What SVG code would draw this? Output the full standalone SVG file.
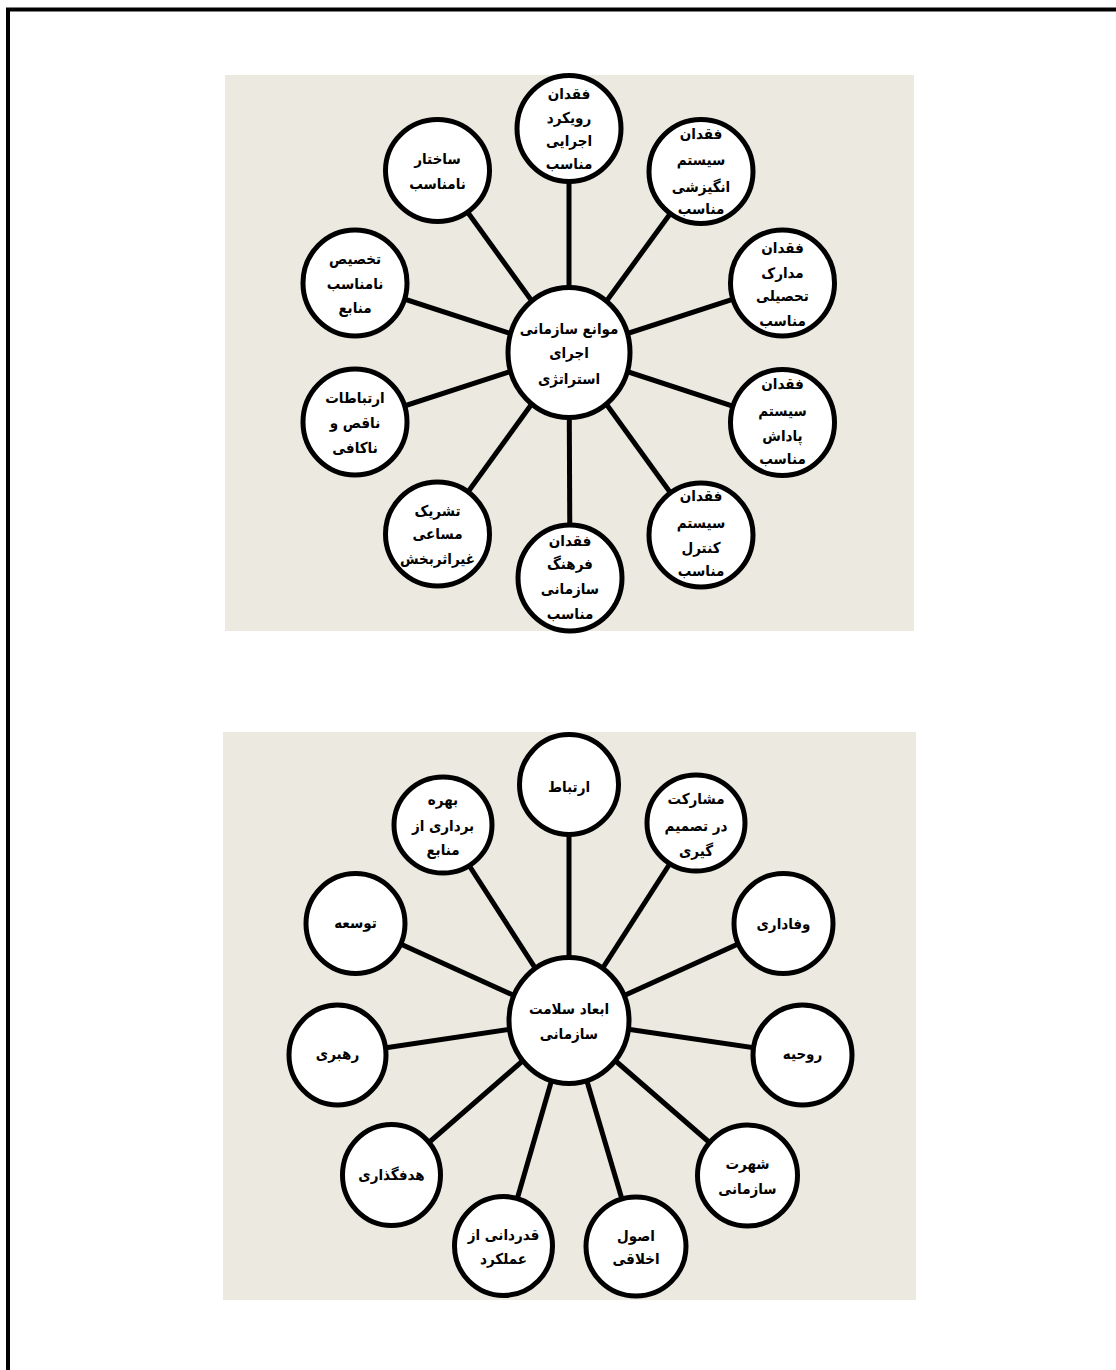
<svg xmlns="http://www.w3.org/2000/svg" width="1116" height="1370" viewBox="0 0 1116 1370">
<style>
.bg{fill:#ECE9E0;stroke:none}
.n{fill:#fff;stroke:#000;stroke-width:5}
.c line{stroke:#000;stroke-width:5}
text{font-family:"DejaVu Sans Condensed","DejaVu Sans",sans-serif;font-weight:bold;font-size:15px;fill:#000;text-anchor:middle;direction:rtl}
</style>
<rect x="8" y="9.5" width="1200" height="1400" fill="none" stroke="#000" stroke-width="4"/>
<rect class="bg" x="225" y="75" width="689" height="556"/>
<rect class="bg" x="223" y="732" width="693" height="568"/>

<g id="connectors-top" class="c">
<line x1="569" y1="352.5" x2="569" y2="128.5"/>
<line x1="569" y1="352.5" x2="437.5" y2="170.5"/>
<line x1="569" y1="352.5" x2="701" y2="171.5"/>
<line x1="569" y1="352.5" x2="355" y2="283"/>
<line x1="569" y1="352.5" x2="782.5" y2="283"/>
<line x1="569" y1="352.5" x2="355" y2="422"/>
<line x1="569" y1="352.5" x2="782.5" y2="422.5"/>
<line x1="569" y1="352.5" x2="437.5" y2="534"/>
<line x1="569" y1="352.5" x2="701" y2="535"/>
<line x1="569" y1="352.5" x2="570" y2="578"/>
</g>
<g id="connectors-bottom" class="c">
<line x1="569" y1="1020.5" x2="569" y2="784.5"/>
<line x1="569" y1="1020.5" x2="443" y2="825"/>
<line x1="569" y1="1020.5" x2="696" y2="823"/>
<line x1="569" y1="1020.5" x2="355.5" y2="923.5"/>
<line x1="569" y1="1020.5" x2="783.5" y2="923.5"/>
<line x1="569" y1="1020.5" x2="337.5" y2="1055"/>
<line x1="569" y1="1020.5" x2="802.5" y2="1055"/>
<line x1="569" y1="1020.5" x2="391.5" y2="1175"/>
<line x1="569" y1="1020.5" x2="747.5" y2="1175.5"/>
<line x1="569" y1="1020.5" x2="503.5" y2="1246"/>
<line x1="569" y1="1020.5" x2="636" y2="1246.5"/>
</g>

<!-- top diagram -->
<g id="hub-top">
<ellipse class="n" cx="569" cy="352.5" rx="61" ry="65"/>
<text x="569" y="334">موانع سازمانی</text>
<text x="569" y="358">اجرای</text>
<text x="569" y="384">استراتژی</text>
</g>
<g id="t-ravikard">
<ellipse class="n" cx="569" cy="128.5" rx="52" ry="53"/>
<text x="569" y="99">فقدان</text>
<text x="569" y="123">رویکرد</text>
<text x="569" y="146">اجرایی</text>
<text x="569" y="169">مناسب</text>
</g>
<g id="t-sakhtar">
<ellipse class="n" cx="437.5" cy="170.5" rx="52" ry="51"/>
<text x="437.5" y="164">ساختار</text>
<text x="437.5" y="189">نامناسب</text>
</g>
<g id="t-angizeshi">
<ellipse class="n" cx="701" cy="171.5" rx="52" ry="52"/>
<text x="701" y="139">فقدان</text>
<text x="701" y="165">سیستم</text>
<text x="701" y="192">انگیزشی</text>
<text x="701" y="214">مناسب</text>
</g>
<g id="t-takhsis">
<ellipse class="n" cx="355" cy="283" rx="52" ry="53"/>
<text x="355" y="264">تخصیص</text>
<text x="355" y="289">نامناسب</text>
<text x="355" y="313">منابع</text>
</g>
<g id="t-madarek">
<ellipse class="n" cx="782.5" cy="283" rx="52" ry="53"/>
<text x="782.5" y="253">فقدان</text>
<text x="782.5" y="278">مدارک</text>
<text x="782.5" y="301">تحصیلی</text>
<text x="782.5" y="326">مناسب</text>
</g>
<g id="t-ertebatat">
<ellipse class="n" cx="355" cy="422" rx="52" ry="53"/>
<text x="355" y="403">ارتباطات</text>
<text x="355" y="428">ناقص و</text>
<text x="355" y="453">ناکافی</text>
</g>
<g id="t-padash">
<ellipse class="n" cx="782.5" cy="422.5" rx="52" ry="53"/>
<text x="782.5" y="389">فقدان</text>
<text x="782.5" y="416">سیستم</text>
<text x="782.5" y="441">پاداش</text>
<text x="782.5" y="464">مناسب</text>
</g>
<g id="t-tashrik">
<ellipse class="n" cx="437.5" cy="534" rx="52" ry="52"/>
<text x="437.5" y="516">تشریک</text>
<text x="437.5" y="539">مساعی</text>
<text x="437.5" y="564">غیراثربخش</text>
</g>
<g id="t-farhang">
<ellipse class="n" cx="570" cy="578" rx="52" ry="53"/>
<text x="570" y="546">فقدان</text>
<text x="570" y="569">فرهنگ</text>
<text x="570" y="594">سازمانی</text>
<text x="570" y="619">مناسب</text>
</g>
<g id="t-control">
<ellipse class="n" cx="701" cy="535" rx="52" ry="52"/>
<text x="701" y="501">فقدان</text>
<text x="701" y="528">سیستم</text>
<text x="701" y="553">کنترل</text>
<text x="701" y="576">مناسب</text>
</g>

<!-- bottom diagram -->
<g id="hub-bottom">
<ellipse class="n" cx="569" cy="1020.5" rx="60" ry="63"/>
<text x="569" y="1014">ابعاد سلامت</text>
<text x="569" y="1039">سازمانی</text>
</g>
<g id="b-ertebat">
<ellipse class="n" cx="569" cy="784.5" rx="49.5" ry="50"/>
<text x="569" y="792">ارتباط</text>
</g>
<g id="b-bahrevari">
<ellipse class="n" cx="443" cy="825" rx="49" ry="48"/>
<text x="443" y="805">بهره</text>
<text x="443" y="831">برداری از</text>
<text x="443" y="855">منابع</text>
</g>
<g id="b-mosharekat">
<ellipse class="n" cx="696" cy="823" rx="49" ry="48"/>
<text x="696" y="804">مشارکت</text>
<text x="696" y="831">در تصمیم</text>
<text x="696" y="856">گیری</text>
</g>
<g id="b-tose">
<ellipse class="n" cx="355.5" cy="923.5" rx="49.5" ry="50"/>
<text x="355.5" y="928">توسعه</text>
</g>
<g id="b-vafadari">
<ellipse class="n" cx="783.5" cy="923.5" rx="49.5" ry="50"/>
<text x="783.5" y="929">وفاداری</text>
</g>
<g id="b-rahbari">
<ellipse class="n" cx="337.5" cy="1055" rx="48.5" ry="50"/>
<text x="337.5" y="1059">رهبری</text>
</g>
<g id="b-ruhiye">
<ellipse class="n" cx="802.5" cy="1055" rx="49.5" ry="50"/>
<text x="802.5" y="1059">روحیه</text>
</g>
<g id="b-hadafgozari">
<ellipse class="n" cx="391.5" cy="1175" rx="49" ry="50.5"/>
<text x="391.5" y="1180">هدفگذاری</text>
</g>
<g id="b-shohrat">
<ellipse class="n" cx="747.5" cy="1175.5" rx="50" ry="50.5"/>
<text x="747.5" y="1169">شهرت</text>
<text x="747.5" y="1194">سازمانی</text>
</g>
<g id="b-ghadrdani">
<ellipse class="n" cx="503.5" cy="1246" rx="49" ry="49.5"/>
<text x="503.5" y="1240">قدردانی از</text>
<text x="503.5" y="1264">عملکرد</text>
</g>
<g id="b-osul">
<ellipse class="n" cx="636" cy="1246.5" rx="50" ry="49.5"/>
<text x="636" y="1241">اصول</text>
<text x="636" y="1264">اخلاقی</text>
</g>
</svg>
